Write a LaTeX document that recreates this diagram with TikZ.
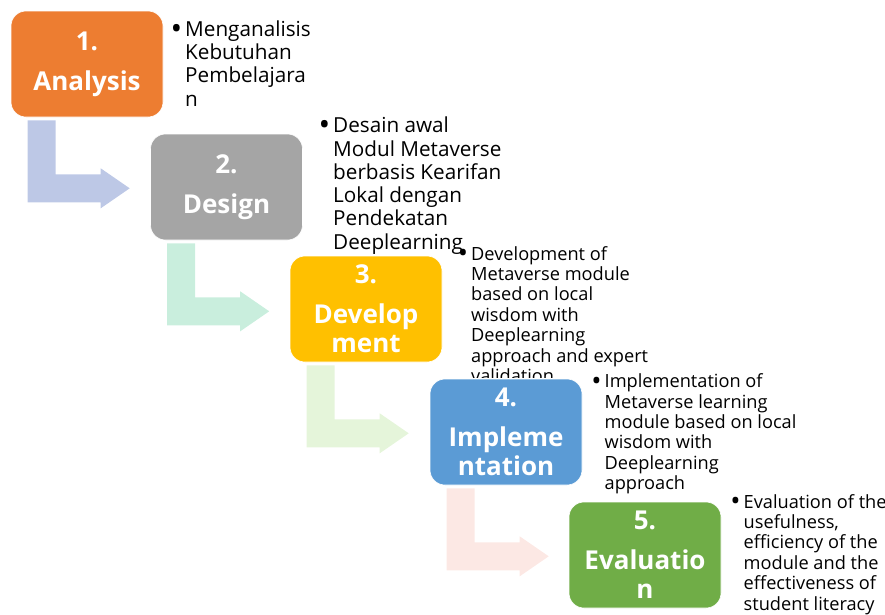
\documentclass[tikz,border=0pt]{standalone}
\usepackage{fontspec}
\setmainfont{Open Sans}
\usepackage{tikz}

\definecolor{jingga}{HTML}{ED7D31}
\definecolor{abu}{HTML}{A5A5A5}
\definecolor{kuning}{HTML}{FFC000}
\definecolor{biru}{HTML}{5B9BD5}
\definecolor{hijau}{HTML}{70AD47}
\definecolor{panahA}{HTML}{BDC8E6}
\definecolor{panahB}{HTML}{C9EEDD}
\definecolor{panahC}{HTML}{E5F5DA}
\definecolor{panahD}{HTML}{FCE8E4}

\tikzset{
    tahap/.style={draw=white, line width=0.6pt, fill=#1, rounded corners=15pt,
      minimum width=152pt, minimum height=106pt, inner sep=0pt,
      text=white, align=center, font=\fontsize{26}{29}\selectfont\bfseries},
    uraian/.style={anchor=north west, align=left, inner sep=0pt,
      font=\fontsize{20.7}{23.3}\selectfont},
    uraian kecil/.style={uraian, font=\fontsize{18.2}{20.4}\selectfont},
    panah/.style={fill=#1},
  }
\newcommand{\butir}{\leavevmode\llap{\raisebox{-0.14em}{\scalebox{1.5}{\textbullet}}\hspace{3pt}}\strut}

\begin{document}
\begin{tikzpicture}[x=1pt,y=-1pt]
				  %tahap = kotak, uraian = teks di samping
				  \useasboundingbox (0,0) rectangle (885,614);

				  \node[tahap=jingga] (t1) at (87,64) {1.\\[11pt]Analysis};
				  \node[tahap=abu] (t2) at (226.5,187) {2.\\[11pt]Design};
				  \node[tahap=kuning] (t3) at (366,309) {3.\\[11pt]Develop\\ment};
				  \node[tahap=biru] (t4) at (506,432) {4.\\[11pt]Impleme\\ntation};
				  \node[tahap=hijau] (t5) at (645,555) {5.\\[11pt]Evaluatio\\n};

				  %panah siku dari bawah kotak ke kotak berikutnya
				  \foreach \a/\w in {t1/panahA,t2/panahB,t3/panahC,t4/panahD}
				    \fill[panah=\w] ([shift={(17,3)}]\a.south west) -- ++(28,0) -- ++(0,54)
				      -- ++(45,0) -- ++(0,-6) -- ++(29,20) -- ++(-29,20) -- ++(0,-6)
				      -- ++(-73,0) -- cycle;

				  \node[uraian] (u1) at (185,19.7)
				    {\butir Menganalisis\\Kebutuhan\\Pembelajara\\n};
				  \node[uraian] (u2) at (333,116.2)
				    {\butir Desain awal\\Modul Metaverse\\berbasis Kearifan\\Lokal dengan\\Pendekatan\\Deeplearning};
				  \begin{scope}
				    \clip (440,0) rectangle (700,377.5);
				    \node[uraian kecil] (u3) at (471,245.7)
				      {\butir Development of\\Metaverse module\\based on local\\wisdom with\\Deeplearning\\approach and expert\\validation};
				  \end{scope}
				  \node[uraian kecil] (u4) at (604.5,373.2)
				    {\butir Implementation of\\Metaverse learning\\module based on local\\wisdom with\\Deeplearning\\approach};
				  \node[uraian kecil] (u5) at (743.5,493.7)
				    {\butir Evaluation of the\\usefulness,\\efficiency of the\\module and the\\effectiveness of\\student literacy};
				  \end{tikzpicture}
\end{document}
